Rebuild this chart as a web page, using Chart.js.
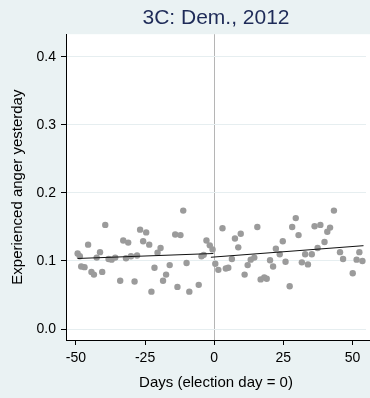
<!DOCTYPE html>
<html>
<head>
<meta charset="utf-8">
<script src="https://cdn.jsdelivr.net/npm/chart.js@4/dist/chart.umd.min.js"></script>
<style>
  html, body { margin: 0; padding: 0; overflow: hidden; background: #eaf2f3; }
  #wrap { width: 370px; height: 398px; position: relative; }
  #chart { display: block; }
</style>
</head>
<body>
<div id="wrap"><canvas id="chart"></canvas></div>
<script>
// days relative to election day, one mean per day
var days = [-49.4,-48.6,-48.1,-46.9,-45.6,-44.4,-43.5,-42.5,-41.3,-40.5,
  -39.4,-38.2,-37.1,-35.8,-34.0,-32.9,-31.9,-31.1,-30.1,-28.8,
  -27.9,-26.8,-25.7,-24.6,-23.5,-22.7,-21.6,-20.5,-19.4,-18.5,
  -17.4,-16.1,-14.1,-13.3,-12.2,-11.2,-10.0,-9.0,-5.6,-4.6,
  -3.8,-2.8,-1.6,-0.6,0.4,1.5,3.0,4.2,5.1,6.4,
  7.5,8.7,9.6,11.0,12.1,13.2,14.5,15.6,16.8,18.1,
  19.0,20.2,21.3,22.3,23.7,24.8,25.8,27.3,28.2,29.5,
  30.5,31.7,32.9,33.9,35.3,36.3,37.4,38.4,39.9,40.9,
  41.9,43.3,45.5,46.6,50.1,51.5,52.5,53.6];
var anger = [0.111,0.107,0.092,0.091,0.124,0.084,0.080,0.105,0.113,0.084,
  0.153,0.103,0.102,0.105,0.071,0.130,0.104,0.127,0.107,0.070,
  0.108,0.146,0.129,0.142,0.124,0.055,0.090,0.112,0.119,0.071,
  0.080,0.094,0.139,0.062,0.138,0.174,0.097,0.055,0.065,0.107,
  0.109,0.130,0.123,0.117,0.096,0.087,0.148,0.089,0.090,0.103,
  0.133,0.120,0.140,0.080,0.094,0.102,0.105,0.150,0.073,0.076,
  0.074,0.101,0.092,0.118,0.110,0.129,0.099,0.063,0.150,0.163,
  0.138,0.098,0.110,0.095,0.110,0.151,0.119,0.153,0.128,0.143,
  0.149,0.174,0.113,0.103,0.082,0.102,0.113,0.100];

// fitted lines before and after election day
var fitBeforeX = [-49.4, -0.3];
var fitBeforeY = [0.1037, 0.1110];
var fitAfterX = [-1.2, 54.0];
var fitAfterY = [0.1055, 0.1225];

var xTicks = [-50, -25, 0, 25, 50];
var yTicks = [0, 0.1, 0.2, 0.3, 0.4];

function toPoints(xs, ys) {
  var out = [];
  for (let i = 0; i < xs.length; i++) {
    out.push({ x: xs[i], y: ys[i] });
  }
  return out;
}

// paints the light outer background and the white plot region (runs to the right edge)
var bgPlugin = {
  id: 'bg',
  beforeDraw: function (chart) {
    var c = chart.ctx, a = chart.chartArea;
    c.save();
    c.fillStyle = '#eaf2f3';
    c.fillRect(0, 0, chart.width, chart.height);
    c.fillStyle = '#ffffff';
    c.fillRect(a.left, a.top, chart.width - a.left, a.bottom - a.top);
    c.restore();
  },
  afterDraw: function (chart) {
    // carry the x axis line on to the edge of the canvas
    var c = chart.ctx, a = chart.chartArea;
    c.save();
    c.strokeStyle = '#000000';
    c.lineWidth = 1;
    c.beginPath();
    c.moveTo(a.right - 1, Math.round(a.bottom) + 0.5);
    c.lineTo(chart.width, Math.round(a.bottom) + 0.5);
    c.stroke();
    c.restore();
  }
};

var tickFont = { family: 'Liberation Sans, Arial, sans-serif', size: 14 };
var titleFont = { family: 'Liberation Sans, Arial, sans-serif', size: 15 };

var ctx = document.getElementById('chart').getContext('2d');
var myChart = new Chart(ctx, {
  type: 'scatter',
  data: {
    datasets: [
      {
        type: 'line',
        data: toPoints(fitBeforeX, fitBeforeY),
        borderColor: '#111111',
        borderWidth: 1,
        pointRadius: 0,
        fill: false
      },
      {
        type: 'line',
        data: toPoints(fitAfterX, fitAfterY),
        borderColor: '#111111',
        borderWidth: 1,
        pointRadius: 0,
        fill: false
      },
      {
        data: toPoints(days, anger),
        pointBackgroundColor: '#9b9b9b',
        pointBorderWidth: 0,
        pointRadius: 3.2
      }
    ]
  },
  options: {
    responsive: true,
    maintainAspectRatio: false,
    animation: false,
    layout: { padding: 0 },
    plugins: {
      legend: { display: false },
      tooltip: { enabled: false },
      title: {
        display: true,
        fullSize: false,
        text: '3C: Dem., 2012',
        color: '#1e2b58',
        font: { family: 'Liberation Sans, Arial, sans-serif', size: 21, weight: 'normal' },
        padding: { top: 6, bottom: 3 }
      }
    },
    scales: {
      x: {
        type: 'linear',
        min: -53.6,
        max: 54.9,
        afterBuildTicks: function (scale) {
          scale.ticks = xTicks.map(function (v) { return { value: v }; });
        },
        afterFit: function (scale) {
          scale.height = 58;
          scale.paddingLeft = 0;
          scale.paddingRight = 0;
        },
        grid: {
          color: function (c) { return c.tick && c.tick.value === 0 ? '#b5b5b5' : 'rgba(0,0,0,0)'; },
          tickColor: '#000000',
          tickLength: 5,
          lineWidth: 1
        },
        border: { display: true, color: '#000000', width: 1 },
        ticks: {
          color: '#000000',
          font: tickFont,
          padding: 5,
          maxRotation: 0,
          autoSkip: false,
          callback: function (v) { return v; }
        },
        title: {
          display: true,
          text: 'Days (election day = 0)',
          color: '#000000',
          font: titleFont,
          padding: { top: 0, bottom: 6 }
        }
      },
      y: {
        min: -0.016,
        max: 0.433,
        afterBuildTicks: function (scale) {
          scale.ticks = yTicks.map(function (v) { return { value: v }; });
        },
        afterFit: function (scale) {
          scale.width = 66;
          scale.paddingTop = 0;
          scale.paddingBottom = 0;
        },
        grid: {
          color: '#e6eef0',
          tickColor: '#000000',
          tickLength: 5,
          lineWidth: 1
        },
        border: { display: true, color: '#000000', width: 1 },
        ticks: {
          color: '#000000',
          font: tickFont,
          padding: 5,
          autoSkip: false,
          callback: function (v) { return Number(v).toFixed(1); }
        },
        title: {
          display: true,
          text: 'Experienced anger yesterday',
          color: '#000000',
          font: titleFont,
          padding: { top: 9, bottom: 0 }
        }
      }
    }
  },
  plugins: [bgPlugin]
});
</script>
</body>
</html>
